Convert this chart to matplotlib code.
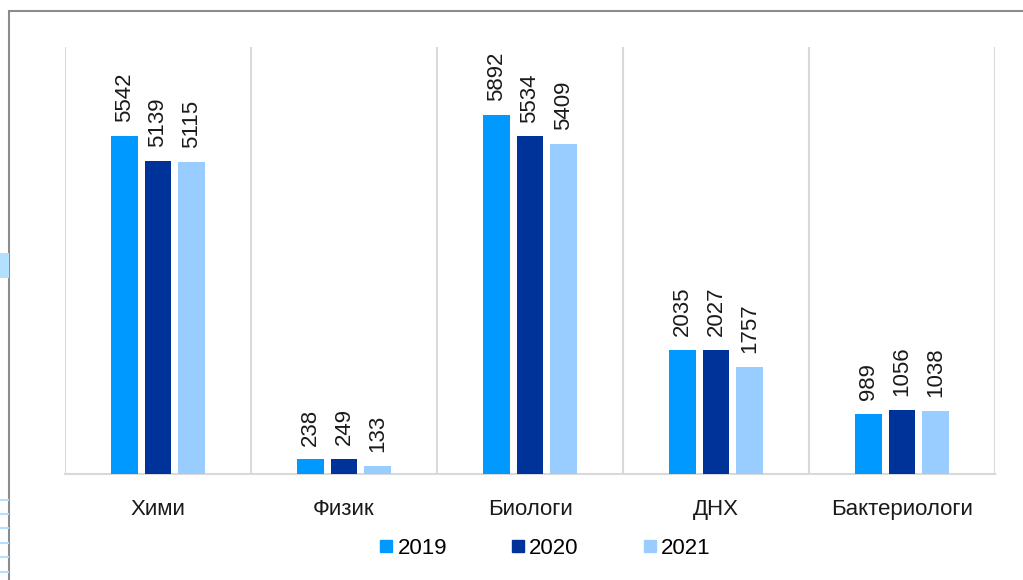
import matplotlib.pyplot as plt
import matplotlib.patches as mpatches
from matplotlib.lines import Line2D
import numpy as np

plt.rcParams['font.family'] = ['Liberation Sans', 'DejaVu Sans']

categories = ["Хими", "Физик", "Биологи", "ДНХ", "Бактериологи"]
years = ["2019", "2020", "2021"]
v2019 = [5542, 238, 5892, 2035, 989]
v2020 = [5139, 249, 5534, 2027, 1056]
v2021 = [5115, 133, 5409, 1757, 1038]
colors = ["#0099FF", "#003399", "#99CCFF"]

fig = plt.figure(figsize=(10.23, 5.8), dpi=100)
ax = fig.add_axes([65/1023, 1-474/580, 930/1023, 427/580])

x = np.arange(len(categories))
w = 0.145
step = 0.18
for k, (vals, c) in enumerate(zip([v2019, v2020, v2021], colors)):
    pos = x + (k-1)*step
    ax.bar(pos, vals, width=w, color=c, zorder=3)
    for p, v in zip(pos, vals):
        ax.annotate(str(v), (p, v), xytext=(0, 10), textcoords="offset points",
                    rotation=90, ha="center", va="bottom", fontsize=16, color="#1a1a1a")

ax.set_xlim(-0.5, len(categories)-0.5)
ax.set_ylim(0, 7000)
for b in np.arange(-0.5, len(categories), 1.0):
    ax.axvline(b, color="#D9D9D9", lw=1.5, zorder=1)
ax.set_yticks([])
ax.set_xticks(x)
ax.set_xticklabels(categories, fontsize=16, color="#1a1a1a")
ax.tick_params(axis="x", length=0, pad=18)
for s in ["top", "left", "right"]:
    ax.spines[s].set_visible(False)
ax.spines["bottom"].set_color("#D9D9D9")
ax.spines["bottom"].set_linewidth(1.5)

handles = [Line2D([], [], marker="s", ls="none", color=c, markersize=9) for c in colors]
fig.legend(handles, years, loc="center", bbox_to_anchor=(543/1023, 1-548/580), ncol=3,
           frameon=False, fontsize=16, handletextpad=0.0, columnspacing=2.7,
           handlelength=1.0)

# outer frame and page decorations
fig.add_artist(mpatches.Rectangle((9/1023, -0.1), 1.1, 1-11/580+0.1, fill=False,
                                  edgecolor="#8C8C8C", lw=1.5, transform=fig.transFigure))
fig.add_artist(mpatches.Rectangle((0, 1-278/580), 9/1023, 25/580, color="#B3E0FF",
                                  transform=fig.transFigure, lw=0))
for yy in [500, 514, 528, 543, 557, 572]:
    fig.add_artist(Line2D([0, 8/1023], [1-yy/580]*2, color="#B3E0FF", lw=1.5,
                          transform=fig.transFigure))

fig.savefig("out.png", dpi=100)
